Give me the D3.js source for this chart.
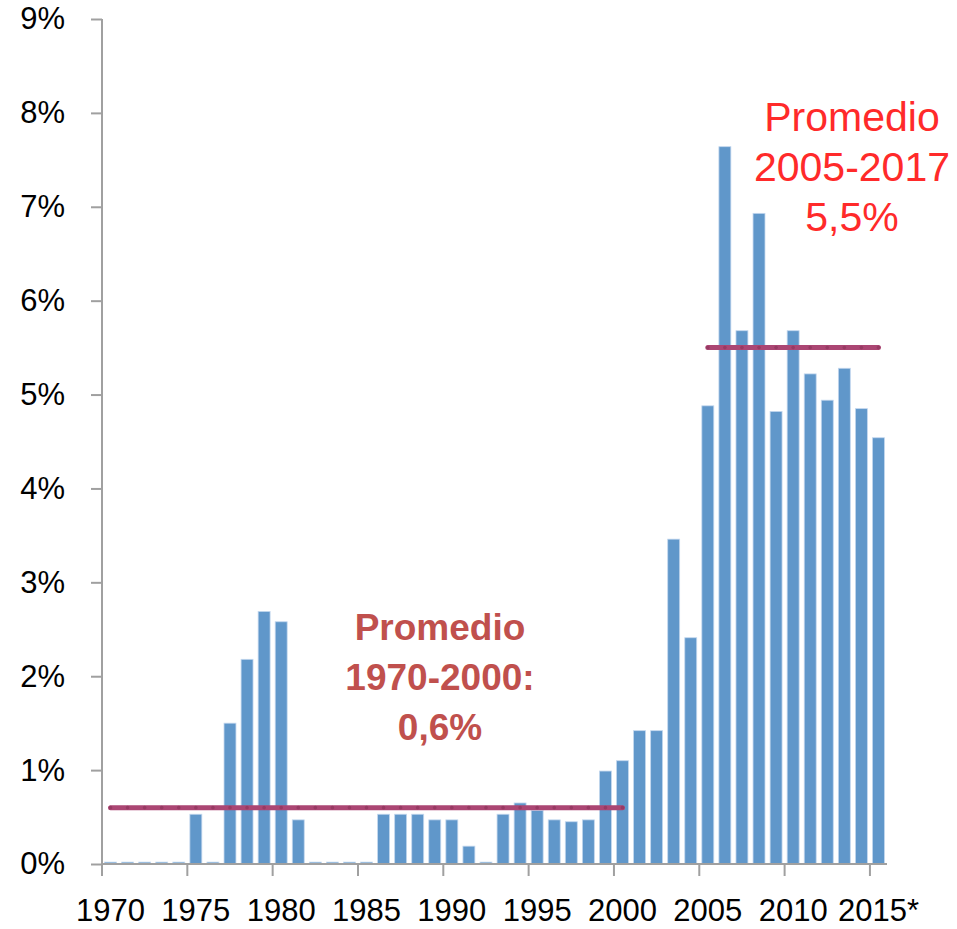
<!DOCTYPE html>
<html>
<head>
<meta charset="utf-8">
<script src="https://cdn.jsdelivr.net/npm/d3@7"></script>
<style>
  body { margin: 0; background: #fff; }
  text { font-family: "Liberation Sans", Arial, sans-serif; }
</style>
</head>
<body>
<div id="chart"></div>
<script>
// Categories (years) and values in percent
var years = ["1970", "1971", "1972", "1973", "1974", "1975", "1976", "1977", "1978", "1979",
  "1980", "1981", "1982", "1983", "1984", "1985", "1986", "1987", "1988", "1989",
  "1990", "1991", "1992", "1993", "1994", "1995", "1996", "1997", "1998", "1999",
  "2000", "2001", "2002", "2003", "2004", "2005", "2006", "2007", "2008", "2009",
  "2010", "2011", "2012", "2013", "2014", "2015*"];

var values = [0.02, 0.02, 0.02, 0.02, 0.02, 0.53, 0.02, 1.50, 2.18, 2.69,
  2.58, 0.47, 0.02, 0.02, 0.02, 0.02, 0.53, 0.53, 0.53, 0.47,
  0.47, 0.19, 0.02, 0.53, 0.65, 0.57, 0.47, 0.45, 0.47, 0.99,
  1.10, 1.42, 1.42, 3.46, 2.41, 4.88, 7.64, 5.68, 6.93, 4.82,
  5.68, 5.22, 4.94, 5.28, 4.85, 4.54];

// Average lines: first and last category, value
var avgFrom = ["1970", "2005"];
var avgTo = ["2000", "2015*"];
var avgValues = [0.6, 5.5];

// Tick labels
var yTicks = [0, 1, 2, 3, 4, 5, 6, 7, 8, 9];
var xTickYears = ["1970", "1975", "1980", "1985", "1990", "1995", "2000", "2005", "2010", "2015*"];

// Annotation texts
var noteLow = ["Promedio", "1970-2000:", "0,6%"];
var noteHigh = ["Promedio", "2005-2017", "5,5%"];

// SVG area
var svgWidth = 957;
var svgHeight = 929;
var chartMargin = { top: 19, right: 70, bottom: 65, left: 102 };
var chartWidth = svgWidth - chartMargin.left - chartMargin.right;
var chartHeight = svgHeight - chartMargin.top - chartMargin.bottom;

var svg = d3.select("#chart")
  .append("svg")
  .attr("width", svgWidth)
  .attr("height", svgHeight);

var chartGroup = svg.append("g")
  .attr("transform", `translate(${chartMargin.left}, ${chartMargin.top})`);

var data = years.map((d, i) => ({ year: d, value: values[i] }));

// Scales
var xScale = d3.scaleBand()
  .domain(years)
  .range([0, chartWidth])
  .paddingInner(0.3)
  .paddingOuter(0.15);

var yScale = d3.scaleLinear()
  .domain([0, 9])
  .range([chartHeight, 0]);

var axisColor = "#a0a0a0";

// Bars
chartGroup.selectAll("rect.bar")
  .data(data)
  .enter()
  .append("rect")
  .attr("class", "bar")
  .attr("x", d => xScale(d.year))
  .attr("y", d => yScale(d.value))
  .attr("width", xScale.bandwidth())
  .attr("height", d => chartHeight - yScale(d.value))
  .attr("fill", "#6097ca")
  .attr("stroke", "#c3d7ee")
  .attr("stroke-width", 0.8);

// Average lines with small markers
var line = d3.line()
  .x(d => xScale(d) + xScale.bandwidth() / 2);

avgValues.forEach(function(v, k) {
  var seg = years.slice(years.indexOf(avgFrom[k]), years.indexOf(avgTo[k]) + 1);
  chartGroup.append("path")
    .datum(seg)
    .attr("d", line.y(yScale(v)))
    .attr("fill", "none")
    .attr("stroke", "#ab4673")
    .attr("stroke-width", 5)
    .attr("stroke-linecap", "round");
  chartGroup.selectAll(null)
    .data(seg)
    .enter()
    .append("circle")
    .attr("cx", d => xScale(d) + xScale.bandwidth() / 2)
    .attr("cy", yScale(v))
    .attr("r", 1.8)
    .attr("fill", "#973a63");
});

// Y axis
var leftAxis = d3.axisLeft(yScale)
  .tickValues(yTicks)
  .tickFormat(d => d + "%")
  .tickSize(11)
  .tickPadding(26);

var yAxis = chartGroup.append("g").call(leftAxis);
yAxis.select(".domain").attr("stroke", axisColor).attr("stroke-width", 2)
  .attr("d", `M0,0V${chartHeight}`);
yAxis.selectAll(".tick line").attr("stroke", axisColor).attr("stroke-width", 2);
yAxis.selectAll(".tick text")
  .attr("font-size", 31)
  .attr("fill", "#000")
  .style("font-family", "'Liberation Sans', Arial, sans-serif");

// X axis: labels centered in category, ticks at category boundaries
var bottomAxis = d3.axisBottom(xScale)
  .tickValues(xTickYears)
  .tickSize(0)
  .tickPadding(35);

var xAxis = chartGroup.append("g")
  .attr("transform", `translate(0, ${chartHeight})`)
  .call(bottomAxis);
xAxis.select(".domain").attr("stroke", axisColor).attr("stroke-width", 2)
  .attr("d", `M0,0H${chartWidth}`);
xAxis.selectAll(".tick text")
  .attr("font-size", 31)
  .attr("fill", "#000")
  .style("font-family", "'Liberation Sans', Arial, sans-serif");

var gapHalf = xScale.step() * xScale.paddingInner() / 2;
xAxis.selectAll("line.boundary")
  .data(xTickYears)
  .enter()
  .append("line")
  .attr("class", "boundary")
  .attr("x1", d => xScale(d) - gapHalf)
  .attr("x2", d => xScale(d) - gapHalf)
  .attr("y1", 0)
  .attr("y2", 12)
  .attr("stroke", axisColor)
  .attr("stroke-width", 2);

// Annotations
var lowNote = svg.append("text")
  .attr("text-anchor", "middle")
  .attr("font-size", 37)
  .attr("font-weight", "bold")
  .attr("fill", "#c0504d");
noteLow.forEach(function(t, i) {
  lowNote.append("tspan")
    .attr("x", 440)
    .attr("y", 640 + i * 50)
    .text(t);
});

var highNote = svg.append("text")
  .attr("text-anchor", "middle")
  .attr("font-size", 41)
  .attr("fill", "#ff2a2a");
noteHigh.forEach(function(t, i) {
  highNote.append("tspan")
    .attr("x", 852)
    .attr("y", 131 + i * 50)
    .text(t);
});
</script>
</body>
</html>
